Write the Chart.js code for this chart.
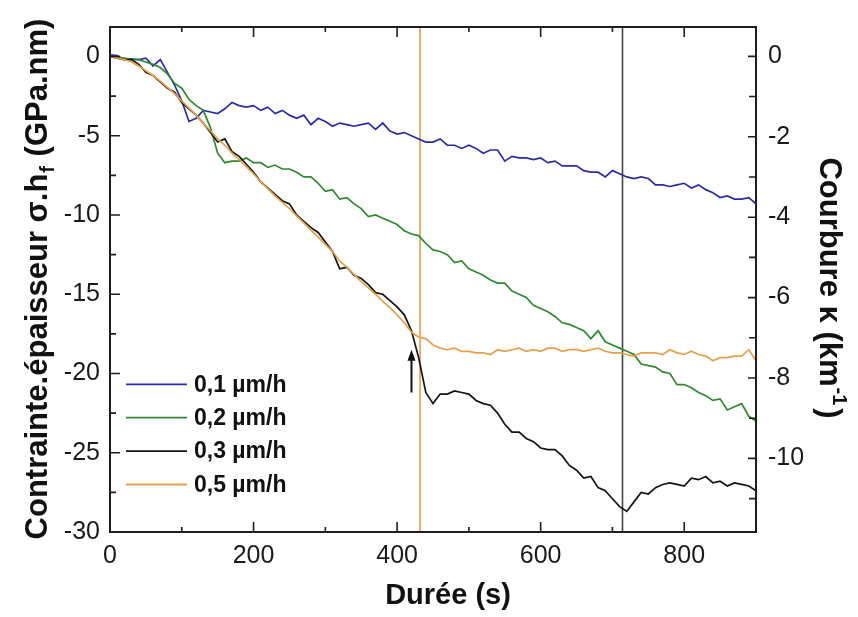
<!DOCTYPE html>
<html>
<head>
<meta charset="utf-8">
<script src="https://cdn.jsdelivr.net/npm/chart.js@4/dist/chart.umd.min.js"></script>
<style>
body{margin:0;background:#fff;}
#cadre{width:858px;height:617px;position:relative;}
</style>
</head>
<body>
<div id="cadre"><canvas id="graphe"></canvas></div>
<script>
// durée (s)
var temps = [0,10,20,30,40,50,60,70,80,90,
	100,110,120,130,140,150,160,170,180,190,
	200,210,220,230,240,250,260,270,280,290,
	300,310,320,330,340,350,360,370,380,390,
	400,410,420,430,440,450,460,470,480,490,
	500,510,520,530,540,550,560,570,580,590,
	600,610,620,630,640,650,660,670,680,690,
	700,710,720,730,740,750,760,770,780,790,
	800,810,820,830,840,850,860,870,880,890,900];

// contrainte.épaisseur (GPa.nm) pour chaque vitesse
var vitesse01 = [0.1,0.05,-0.2,-0.15,-0.2,-0.1,-0.6,-0.2,-1.0,-1.8,
	-2.8,-4.1,-3.9,-3.4,-3.5,-3.6,-3.3,-2.9,-3.1,-3.2,
	-3.1,-3.4,-3.2,-3.6,-3.4,-3.7,-3.9,-3.7,-4.3,-3.9,
	-4.1,-4.4,-4.2,-4.3,-4.4,-4.3,-4.2,-4.6,-4.2,-4.7,
	-4.9,-4.8,-5.0,-5.2,-5.4,-5.4,-5.2,-5.6,-5.6,-5.8,
	-5.6,-5.8,-6.1,-5.9,-5.9,-6.6,-6.3,-6.4,-6.4,-6.5,
	-6.4,-6.7,-6.6,-6.9,-6.9,-6.9,-7.2,-7.3,-7.3,-7.6,
	-7.2,-7.4,-7.6,-7.7,-7.6,-7.7,-8.1,-8.1,-8.2,-8.1,
	-8.0,-8.3,-8.1,-8.4,-8.6,-8.9,-8.8,-9.0,-9.0,-8.9,-9.3];
var vitesse02 = [0,-0.05,-0.1,-0.2,-0.2,-0.35,-0.5,-0.7,-1.1,-1.7,
	-2.0,-2.7,-3.1,-3.4,-4.5,-6.1,-6.7,-6.6,-6.6,-6.4,
	-6.7,-6.7,-7.0,-6.85,-7.1,-7.1,-7.3,-7.6,-7.6,-8.0,
	-8.5,-8.4,-9.0,-8.9,-9.3,-9.6,-10.1,-10.0,-10.2,-10.4,
	-10.6,-11.0,-11.2,-11.3,-11.8,-12.2,-12.3,-12.5,-13.0,-12.9,
	-13.4,-13.6,-13.8,-14.1,-14.3,-14.3,-14.8,-15.0,-15.2,-15.7,
	-15.9,-16.1,-16.4,-16.8,-16.9,-17.1,-17.3,-17.8,-17.3,-18.0,
	-18.2,-18.4,-18.6,-18.8,-19.4,-19.5,-19.6,-19.9,-20.0,-20.7,
	-20.7,-20.9,-21.2,-21.4,-21.7,-21.6,-22.3,-22.1,-21.9,-22.7,-23.0];
var vitesse03 = [0,-0.1,-0.2,-0.2,-0.5,-1.0,-1.2,-1.6,-2.0,-2.25,
	-2.9,-3.3,-3.7,-4.2,-4.8,-5.4,-5.2,-6.0,-6.3,-6.8,
	-7.3,-7.9,-8.3,-8.7,-9.1,-9.3,-10.0,-10.4,-10.8,-11.1,
	-11.7,-12.3,-13.4,-13.3,-13.8,-14.0,-14.4,-14.9,-15.0,-15.4,
	-15.8,-16.3,-17.3,-19.0,-21.2,-21.9,-21.3,-21.3,-21.1,-21.2,
	-21.3,-21.7,-21.9,-22.0,-22.5,-23.2,-23.7,-23.7,-24.1,-24.3,
	-24.7,-24.8,-24.8,-25.2,-25.8,-26.1,-26.6,-26.5,-27.2,-27.4,
	-27.9,-28.4,-28.7,-28.1,-27.5,-27.6,-27.2,-27.0,-26.9,-27.0,
	-27.1,-26.6,-26.7,-26.5,-26.9,-26.8,-27.1,-26.9,-27.0,-27.1,-27.4];
var vitesse05 = [0,-0.1,-0.2,-0.35,-0.6,-0.9,-1.2,-1.55,-1.95,-2.35,
	-2.8,-3.25,-3.7,-4.2,-4.7,-5.2,-5.6,-6.1,-6.5,-6.95,
	-7.4,-7.9,-8.35,-8.8,-9.2,-9.6,-10.05,-10.5,-10.95,-11.4,
	-11.85,-12.3,-12.9,-13.3,-13.75,-14.2,-14.6,-15.0,-15.45,-15.85,
	-16.3,-16.8,-17.4,-17.7,-17.8,-18.2,-18.4,-18.5,-18.4,-18.6,
	-18.6,-18.7,-18.7,-18.8,-18.5,-18.6,-18.5,-18.4,-18.6,-18.5,
	-18.6,-18.4,-18.4,-18.6,-18.5,-18.5,-18.6,-18.5,-18.4,-18.6,
	-18.7,-18.7,-18.8,-18.9,-18.7,-18.7,-18.7,-18.8,-18.5,-18.7,
	-18.8,-18.6,-18.8,-18.9,-19.2,-19.0,-19.0,-18.9,-18.9,-18.5,-19.2];

var noms = ['0,1 µm/h', '0,2 µm/h', '0,3 µm/h', '0,5 µm/h'];
var couleurs = ['#2b2ba8', '#2f8a2f', '#141414', '#e6a04a'];

// repères verticaux (s) et flèche
var reperes = [432, 714];
var couleursReperes = ['#e6a04a', '#444444'];
var flecheX = 420;
var flecheY = [-21.2, -18.5];

// graduations
var xTicks = [0, 200, 400, 600, 800];
var xMinor = [100, 300, 500, 700];
var yTicks = [-30, -25, -20, -15, -10, -5, 0];
var yMinor = [-27.5, -22.5, -17.5, -12.5, -7.5, -2.5];
var y2Ticks = [-10, -8, -6, -4, -2, 0];
var y2Minor = [-11, -9, -7, -5, -3, -1];

function points(serie){
	return temps.map(function(t, i){ return {x: t, y: serie[i]}; });
}

var jeux = [];
[vitesse01, vitesse02, vitesse03, vitesse05].forEach(function(s, i){
	jeux.push({
		label: noms[i],
		data: points(s),
		borderColor: couleurs[i],
		borderWidth: 1.7,
		pointRadius: 0,
		tension: 0,
		yAxisID: 'y',
		order: 4 - i
	});
});
reperes.forEach(function(t, i){
	jeux.push({
		label: 'repere' + i,
		data: [{x: t, y: -30}, {x: t, y: 1.86}],
		borderColor: couleursReperes[i],
		borderWidth: 1.6,
		pointRadius: 0,
		yAxisID: 'y',
		order: 10
	});
});

function fixe(liste){
	return function(s){ s.ticks = liste.map(function(v){ return {value: v}; }); };
}

var decor = {
	id: 'decor',
	afterDraw: function(chart){
		var ctx = chart.ctx, a = chart.chartArea;
		var xs = chart.scales.x, ys = chart.scales.y, y2 = chart.scales.y2;
		ctx.save();
		ctx.strokeStyle = '#1e1e1e';
		ctx.lineWidth = 1.6;
		ctx.beginPath();
		function tx(liste, len){
			liste.forEach(function(v){
				var p = xs.getPixelForValue(v);
				ctx.moveTo(p, a.bottom); ctx.lineTo(p, a.bottom - len);
				ctx.moveTo(p, a.top); ctx.lineTo(p, a.top + len);
			});
		}
		function ty(sc, liste, len, gauche){
			liste.forEach(function(v){
				var p = sc.getPixelForValue(v);
				if (gauche){ ctx.moveTo(a.left, p); ctx.lineTo(a.left + len, p); }
				else { ctx.moveTo(a.right, p); ctx.lineTo(a.right - len, p); }
			});
		}
		tx(xTicks, 10); tx(xMinor, 5);
		ty(ys, yTicks, 10, true); ty(ys, yMinor, 6, true);
		ty(y2, y2Ticks, 8, false); ty(y2, y2Minor, 7, false);
		ctx.stroke();

		// cadre
		ctx.lineWidth = 2;
		ctx.strokeRect(a.left, a.top, a.right - a.left, a.bottom - a.top);

		// flèche
		var fx = xs.getPixelForValue(flecheX);
		var f0 = ys.getPixelForValue(flecheY[0]);
		var f1 = ys.getPixelForValue(flecheY[1]);
		ctx.strokeStyle = '#111';
		ctx.fillStyle = '#111';
		ctx.lineWidth = 2;
		ctx.beginPath();
		ctx.moveTo(fx, f0); ctx.lineTo(fx, f1 + 8);
		ctx.stroke();
		ctx.beginPath();
		ctx.moveTo(fx, f1); ctx.lineTo(fx - 4, f1 + 11); ctx.lineTo(fx + 4, f1 + 11);
		ctx.closePath(); ctx.fill();

		// légende
		ctx.font = 'bold 23px "Liberation Sans", Arial, sans-serif';
		ctx.textBaseline = 'middle';
		ctx.textAlign = 'left';
		noms.forEach(function(n, i){
			var y = 384.3 + i * 33.4;
			ctx.strokeStyle = couleurs[i];
			ctx.lineWidth = 1.8;
			ctx.beginPath(); ctx.moveTo(126, y); ctx.lineTo(187, y); ctx.stroke();
			ctx.fillStyle = '#111';
			ctx.fillText(n, 194, y + 1);
		});

		// titres
		ctx.fillStyle = '#111';
		ctx.textBaseline = 'alphabetic';
		var gros = 'bold 31px "Liberation Sans", Arial, sans-serif';
		var petit = 'bold 20px "Liberation Sans", Arial, sans-serif';

		// axe gauche
		ctx.save();
		ctx.translate(47, 279);
		ctx.rotate(-Math.PI / 2);
		var p1 = 'Contrainte.épaisseur σ.h', p2 = 'f', p3 = ' (GPa.nm)';
		ctx.font = gros; var w1 = ctx.measureText(p1).width, w3 = ctx.measureText(p3).width;
		ctx.font = petit; var w2 = ctx.measureText(p2).width + 2;
		var d = -(w1 + w2 + w3) / 2;
		ctx.font = gros; ctx.fillText(p1, d, 0);
		ctx.font = petit; ctx.fillText(p2, d + w1 + 1, 7);
		ctx.font = gros; ctx.fillText(p3, d + w1 + w2, 0);
		ctx.restore();

		// axe droit
		ctx.save();
		ctx.translate(820, 288);
		ctx.rotate(Math.PI / 2);
		var q1 = 'Courbure κ (km', q2 = '-1', q3 = ')';
		ctx.font = gros; var v1 = ctx.measureText(q1).width, v3 = ctx.measureText(q3).width;
		ctx.font = petit; var v2 = ctx.measureText(q2).width + 4;
		var e = -(v1 + v2 + v3) / 2;
		ctx.font = gros; ctx.fillText(q1, e, 0);
		ctx.font = petit; ctx.fillText(q2, e + v1 + 1, -13);
		ctx.font = gros; ctx.fillText(q3, e + v1 + v2, 0);
		ctx.restore();

		// axe x
		ctx.font = 'bold 29px "Liberation Sans", Arial, sans-serif';
		ctx.textAlign = 'center';
		ctx.fillText('Durée (s)', 448, 604);
		ctx.restore();
	}
};

var police = {family: '"Liberation Sans", Arial, sans-serif', size: 25};

var ctx = document.getElementById('graphe').getContext('2d');
var graphe = new Chart(ctx, {
	type: 'line',
	data: {datasets: jeux},
	options: {
		responsive: true,
		maintainAspectRatio: false,
		animation: false,
		layout: {padding: {top: 13, left: 0, right: 0, bottom: 0}},
		plugins: {legend: {display: false}, tooltip: {enabled: false}},
		scales: {
			x: {
				type: 'linear', position: 'bottom', min: 0, max: 900,
				grid: {display: false, drawTicks: false}, border: {display: false},
				ticks: {font: police, color: '#1a1a1a', padding: 9, maxRotation: 0},
				afterBuildTicks: fixe(xTicks),
				afterFit: function(s){ s.height = 85; }
			},
			y: {
				type: 'linear', position: 'left', min: -30, max: 1.86,
				grid: {display: false, drawTicks: false}, border: {display: false},
				ticks: {font: police, color: '#1a1a1a', padding: 10},
				afterBuildTicks: fixe(yTicks),
				afterFit: function(s){ s.width = 110; }
			},
			y2: {
				type: 'linear', position: 'right', min: -11.83, max: 0.73,
				grid: {display: false, drawTicks: false}, border: {display: false},
				ticks: {font: police, color: '#1a1a1a', padding: 12},
				afterBuildTicks: fixe(y2Ticks),
				afterFit: function(s){ s.width = 102; }
			}
		}
	},
	plugins: [decor]
});
</script>
</body>
</html>
